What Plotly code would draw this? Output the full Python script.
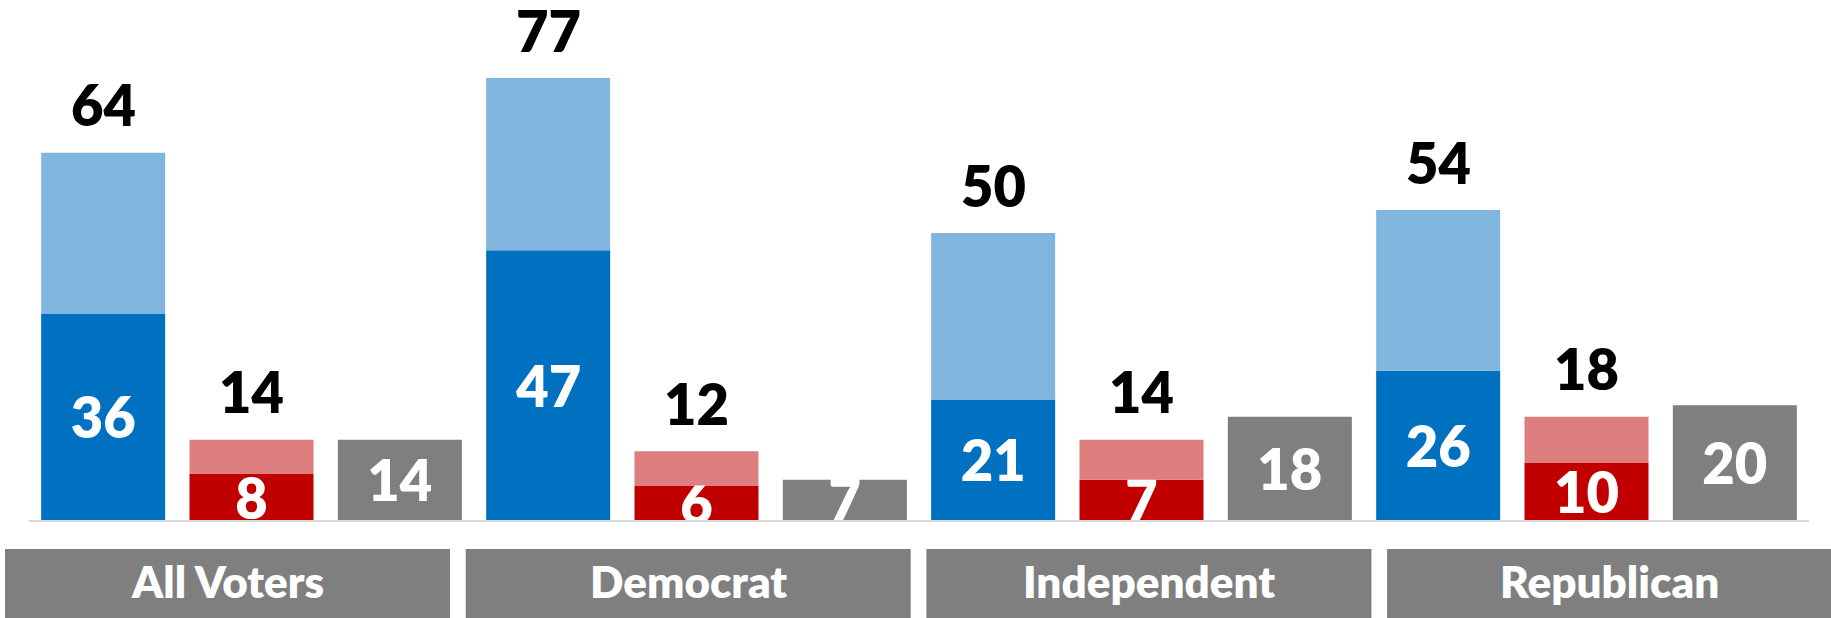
import plotly.graph_objects as go

# ---- data ----
groups = ["All Voters", "Democrat", "Independent", "Republican"]
blue_strong = [36, 47, 21, 26]
blue_total = [64, 77, 50, 54]
red_strong = [8, 6, 7, 10]
red_total = [14, 12, 14, 18]
gray_vals = [14, 7, 18, 20]

blue_soft = [t - s for t, s in zip(blue_total, blue_strong)]
red_soft = [t - s for t, s in zip(red_total, red_strong)]

# ---- style ----
DARK_BLUE = "#0070C0"
LIGHT_BLUE = "#80B6DD"
DARK_RED = "#C00000"
LIGHT_RED = "#DE7F7F"
GRAY = "#7F7F7F"
FONT = "Lato"
WEIGHT = 800

W, H = 1831, 618
M_L, M_R, M_T, M_B = 29, 22, 0, 98
PLOT_W = W - M_L - M_R
PLOT_H = H - M_T - M_B
Y_MAX = 90.6
SLOT_PX = PLOT_W / len(groups) / 3  # width of one bar slot

inner_font = dict(family=FONT, size=56, color="white", weight=WEIGHT)


def bar(y, color, group, base=None, text=None):
    return go.Bar(
        x=groups, y=y, base=base, offsetgroup=group,
        marker=dict(color=color, line=dict(width=0)),
        text=text, textposition="inside" if text is not None else "none",
        insidetextanchor="middle", constraintext="none", textangle=0,
        textfont=inner_font, cliponaxis=True,
        hoverinfo="skip", showlegend=False,
    )


fig = go.Figure()
fig.add_trace(bar(blue_strong, DARK_BLUE, "blue", text=blue_strong))
fig.add_trace(bar(blue_soft, LIGHT_BLUE, "blue", base=blue_strong))
fig.add_trace(bar(red_strong, DARK_RED, "red", text=red_strong))
fig.add_trace(bar(red_soft, LIGHT_RED, "red", base=red_strong))
fig.add_trace(bar(gray_vals, GRAY, "gray", text=gray_vals))

# totals above the stacked bars
annotations = []
for g, bt, rt in zip(groups, blue_total, red_total):
    for val, shift in ((bt, -SLOT_PX), (rt, 0)):
        annotations.append(dict(
            x=g, y=val, xref="x", yref="y", text=str(val), showarrow=False,
            xshift=shift, yshift=48, yanchor="middle",
            font=dict(family=FONT, size=56, color="black", weight=WEIGHT),
        ))

# group header boxes under the axis
shapes = []
BOX_L0, BOX_W, BOX_PITCH = 5, 445, 460.7
BOX_TOP, BOX_BOT = 549, 618
to_px = lambda px: (px - M_L) / PLOT_W
to_py = lambda py: (H - M_B - py) / PLOT_H
for i, g in enumerate(groups):
    x0 = BOX_L0 + i * BOX_PITCH
    x1 = min(x0 + BOX_W, W)
    shapes.append(dict(
        type="rect", xref="paper", yref="paper",
        x0=to_px(x0), x1=to_px(x1), y0=to_py(BOX_BOT), y1=to_py(BOX_TOP),
        fillcolor=GRAY, line=dict(width=0), layer="above",
    ))
    annotations.append(dict(
        x=to_px((x0 + x1) / 2), y=to_py((BOX_TOP + BOX_BOT) / 2 - 3),
        xref="paper", yref="paper", text=g, showarrow=False,
        xanchor="center", yanchor="middle",
        font=dict(family=FONT, size=44, color="white", weight=WEIGHT),
    ))

fig.update_layout(
    width=W, height=H,
    margin=dict(l=M_L, r=M_R, t=M_T, b=M_B),
    barmode="group", bargap=0, bargroupgap=0.164,
    plot_bgcolor="white", paper_bgcolor="white",
    xaxis=dict(showticklabels=False, ticks="", showgrid=False, zeroline=False,
               showline=True, linecolor="#D9D9D9", linewidth=1.5, fixedrange=True),
    yaxis=dict(range=[0, Y_MAX], visible=False, showgrid=False, zeroline=False),
    shapes=shapes, annotations=annotations,
)

fig.write_html("out.html")
